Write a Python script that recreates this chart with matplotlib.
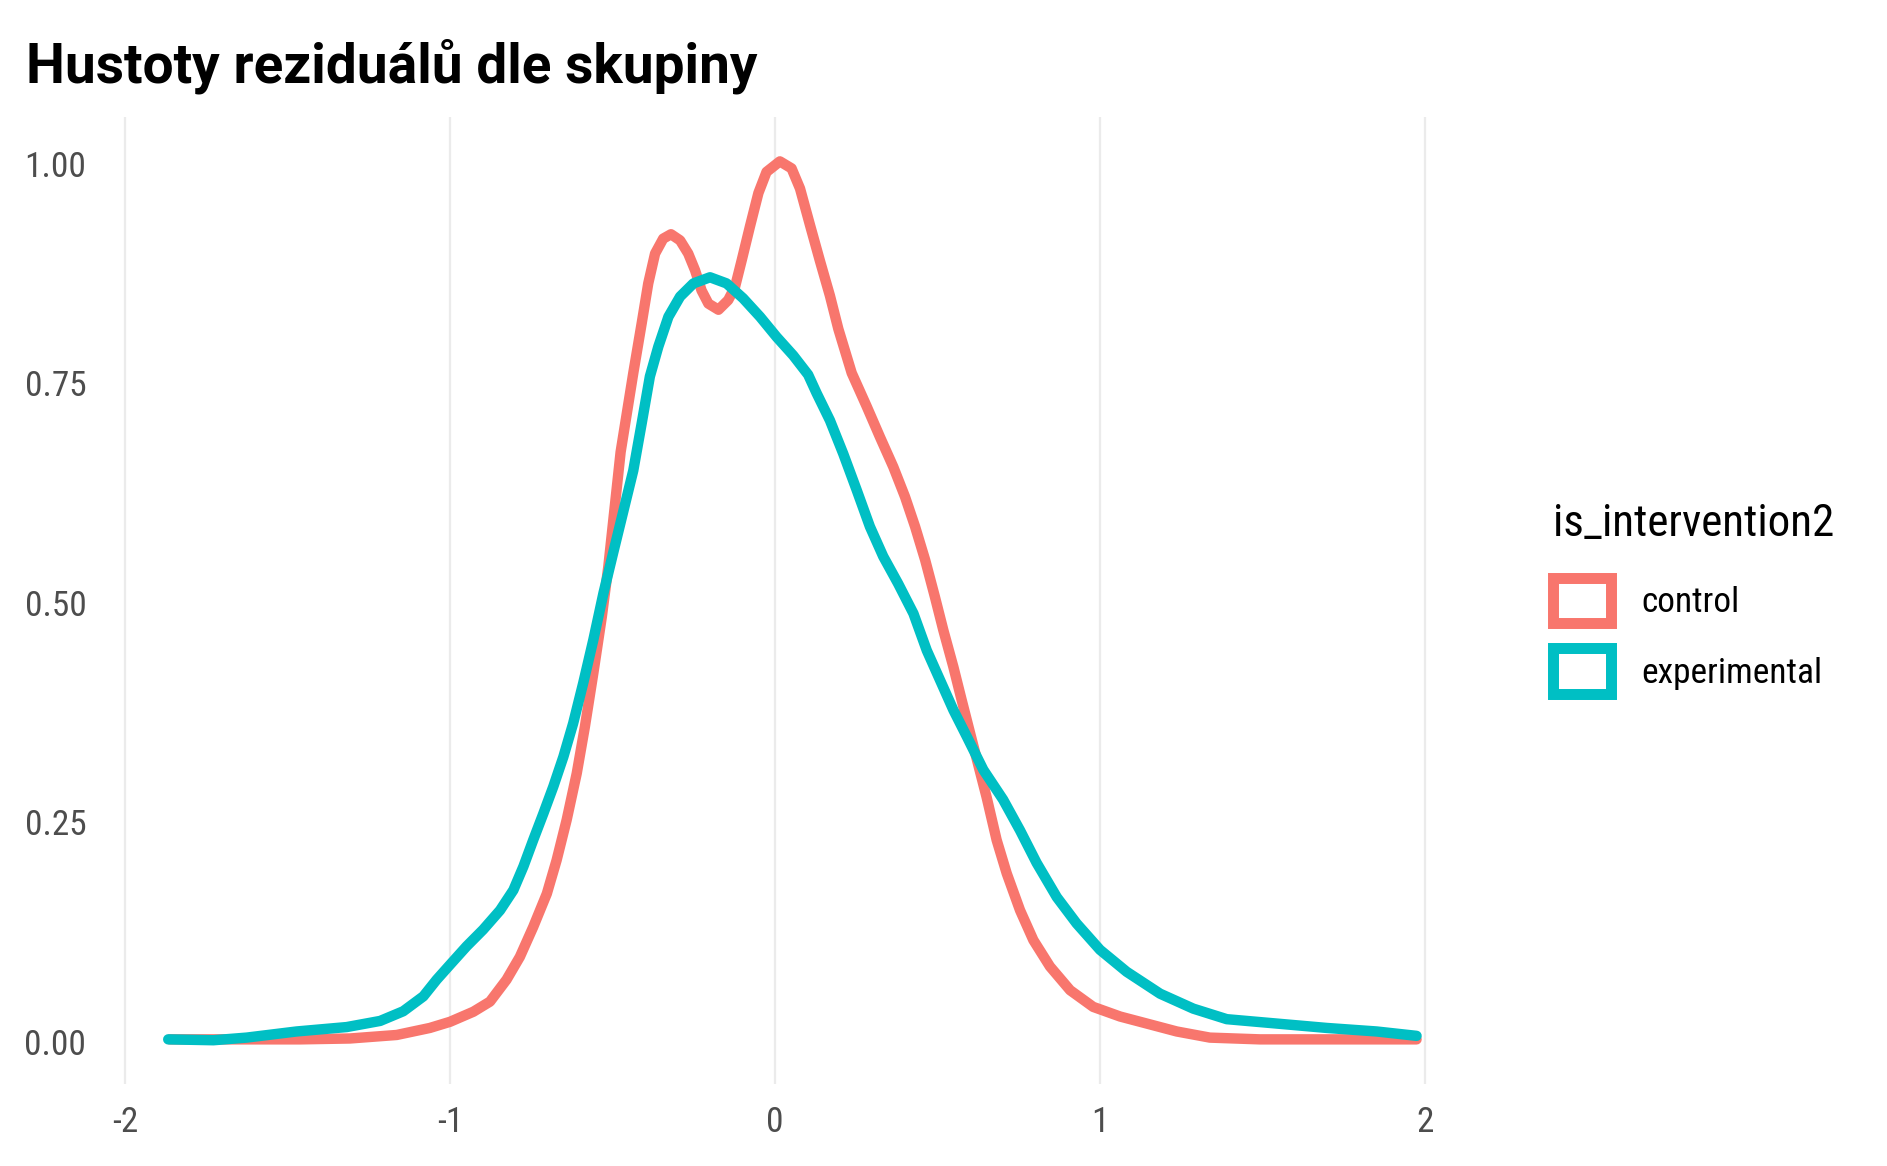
import matplotlib
matplotlib.use("Agg")
import matplotlib.pyplot as plt
from matplotlib import font_manager
from matplotlib.patches import Patch

# ---------------- data ----------------
control_x = [-1.862, -1.462, -1.308, -1.164, -1.062, -1.000, -0.928, -0.877, -0.826, -0.785,
             -0.744, -0.702, -0.672, -0.641, -0.610, -0.585, -0.559, -0.533, -0.513, -0.475,
             -0.436, -0.410, -0.390, -0.369, -0.344, -0.320, -0.292, -0.267, -0.246, -0.226,
             -0.205, -0.174, -0.144, -0.123, -0.102, -0.077, -0.051, -0.026, 0.015, 0.051,
             0.077, 0.108, 0.138, 0.169, 0.195, 0.236, 0.282, 0.323, 0.364, 0.400, 0.431,
             0.462, 0.492, 0.518, 0.549, 0.574, 0.605, 0.651, 0.682, 0.713, 0.754, 0.795,
             0.846, 0.908, 0.979, 1.062, 1.144, 1.236, 1.338, 1.492, 1.698, 1.974]
control_y = [0.003, 0.003, 0.004, 0.008, 0.016, 0.023, 0.0345, 0.046, 0.071, 0.097,
             0.131, 0.169, 0.207, 0.253, 0.306, 0.359, 0.420, 0.484, 0.541, 0.672,
             0.762, 0.819, 0.864, 0.898, 0.915, 0.920, 0.913, 0.898, 0.879, 0.856,
             0.841, 0.834, 0.845, 0.860, 0.891, 0.929, 0.967, 0.991, 1.003, 0.995,
             0.972, 0.930, 0.890, 0.850, 0.812, 0.762, 0.724, 0.689, 0.655, 0.621, 0.587,
             0.549, 0.507, 0.469, 0.427, 0.390, 0.345, 0.279, 0.230, 0.192, 0.150, 0.116,
             0.086, 0.059, 0.040, 0.029, 0.021, 0.012, 0.005, 0.003, 0.003, 0.003]

exper_x = [-1.867, -1.728, -1.626, -1.472, -1.318, -1.215, -1.144, -1.082, -1.041, -1.000,
           -0.949, -0.898, -0.846, -0.805, -0.774, -0.744, -0.713, -0.682, -0.651, -0.621,
           -0.590, -0.559, -0.528, -0.498, -0.467, -0.436, -0.410, -0.385, -0.359, -0.328,
           -0.292, -0.251, -0.200, -0.149, -0.098, -0.046, 0.005, 0.056, 0.102, 0.128,
           0.169, 0.210, 0.251, 0.292, 0.333, 0.379, 0.426, 0.467, 0.508, 0.549, 0.590,
           0.641, 0.702, 0.754, 0.805, 0.867, 0.928, 1.000, 1.082, 1.185, 1.287, 1.390,
           1.544, 1.698, 1.851, 1.974]
exper_y = [0.003, 0.002, 0.005, 0.012, 0.017, 0.024, 0.035, 0.052, 0.071, 0.088,
           0.109, 0.128, 0.150, 0.173, 0.200, 0.230, 0.260, 0.291, 0.325, 0.363,
           0.409, 0.458, 0.511, 0.557, 0.604, 0.651, 0.705, 0.758, 0.792, 0.826,
           0.849, 0.864, 0.871, 0.864, 0.847, 0.826, 0.803, 0.782, 0.760, 0.739,
           0.708, 0.670, 0.629, 0.587, 0.553, 0.522, 0.488, 0.446, 0.412, 0.378, 0.348,
           0.310, 0.276, 0.241, 0.204, 0.165, 0.135, 0.105, 0.080, 0.055, 0.038, 0.026,
           0.021, 0.016, 0.012, 0.007]

groups = ["control", "experimental"]
colors = ["#F8766D", "#00BFC4"]
x_ticks = [-2, -1, 0, 1, 2]
x_labels = ["-2", "-1", "0", "1", "2"]
y_ticks = [0.0, 0.25, 0.5, 0.75, 1.0]
y_labels = ["0.00", "0.25", "0.50", "0.75", "1.00"]
title = "Hustoty reziduálů dle skupiny"
legend_title = "is_intervention2"

# ---------------- fonts ----------------
avail = {f.name for f in font_manager.fontManager.ttflist}
def pick(cands):
    for c in cands:
        if c in avail:
            return c
    return "DejaVu Sans"
cond = pick(["Roboto Condensed", "Liberation Sans Narrow", "Roboto"])
plt.rcParams["font.family"] = [cond, "DejaVu Sans"]

W, H = 1887, 1166
fig = plt.figure(figsize=(W / 100, H / 100), dpi=100)
fig.patch.set_facecolor("white")

# limits with ggplot-style 5% expansion
xmin = min(min(control_x), min(exper_x)); xmax = max(max(control_x), max(exper_x))
xr = xmax - xmin
xlim = (xmin - 0.05 * xr, xmax + 0.05 * xr)
ymin = min(min(control_y), min(exper_y)); ymax = max(max(control_y), max(exper_y))
yr = ymax - ymin
ylim = (ymin - 0.05 * yr, ymax + 0.05 * yr)

# pixel mapping of the panel
x0px, xunit = 775.0, 325.0
y0px, yunit = 1042.0, 878.0
left = x0px + xlim[0] * xunit
right = x0px + xlim[1] * xunit
bottom = y0px - ylim[0] * yunit
top = y0px - ylim[1] * yunit
ax = fig.add_axes([left / W, 1 - bottom / H, (right - left) / W, (bottom - top) / H])

ax.plot(control_x, control_y, color=colors[0], lw=7.5, solid_capstyle="round",
        solid_joinstyle="round", zorder=3)
ax.plot(exper_x, exper_y, color=colors[1], lw=7.5, solid_capstyle="round",
        solid_joinstyle="round", zorder=4)

ax.set_xlim(*xlim)
ax.set_ylim(*ylim)
ax.set_xticks(x_ticks)
ax.set_xticklabels(x_labels)
ax.set_yticks(y_ticks)
ax.set_yticklabels(y_labels)
ax.grid(axis="x", color="#EBEBEB", lw=1.6, zorder=0)
ax.grid(axis="y", visible=False)
for s in ax.spines.values():
    s.set_visible(False)
ax.tick_params(axis="both", length=0, labelsize=25.5, labelcolor="#4D4D4D")
ax.tick_params(axis="x", pad=16)
ax.tick_params(axis="y", pad=14)
ax.set_facecolor("white")

fig.text(25.5 / W, 1 - 82 / H, title, fontsize=39.6, fontweight="bold", color="black",
         ha="left", va="baseline", family=[pick(["Roboto", "Roboto Condensed"]), "DejaVu Sans"])

handles = [Patch(facecolor="none", edgecolor=c, linewidth=7.9) for c in colors]
leg = fig.legend(handles, groups, title=legend_title, loc="upper left",
                 bbox_to_anchor=(1528 / W, 1 - 478 / H), frameon=False,
                 fontsize=25.5, title_fontsize=32.5, alignment="left",
                 handlelength=1.65, handleheight=1.6, labelspacing=0.71,
                 handletextpad=0.85, borderpad=0.2)
try:
    leg._legend_box.sep = leg._legend_box.sep + 5.5
except Exception:
    pass

fig.savefig("out.png", dpi=100, facecolor="white")
